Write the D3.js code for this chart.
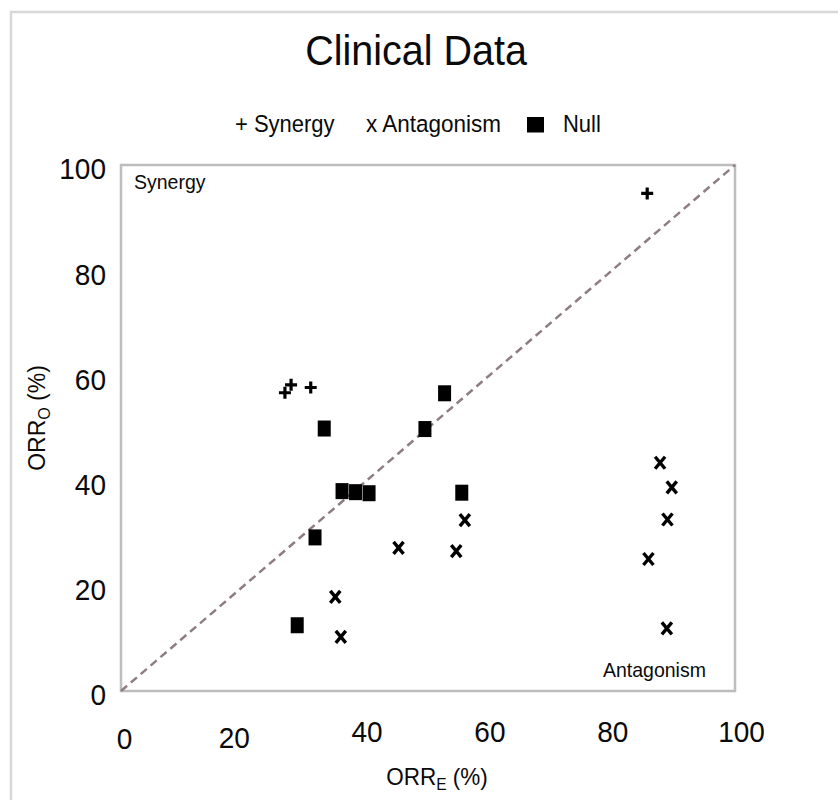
<!DOCTYPE html>
<html>
<head>
<meta charset="utf-8">
<script src="https://cdn.jsdelivr.net/npm/d3@7"></script>
<style>
  html, body { margin: 0; padding: 0; background: #fff; }
  svg { display: block; font-family: "Liberation Sans", Arial, sans-serif; }
</style>
</head>
<body>
<svg id="chart" width="838" height="800"></svg>
<script>
// ---- data ----
const xTicks = [0, 20, 40, 60, 80, 100];
const yTicks = [0, 20, 40, 60, 80, 100];
const seriesNames = ["Synergy", "Antagonism", "Null"];

const synergyX = [26.7, 27.7, 30.9, 85.7];
const synergyY = [56.7, 58.2, 57.7, 94.6];

const antagonismX = [56.0, 45.2, 54.6, 34.9, 35.8, 87.8, 89.7, 89.0, 85.9, 88.9];
const antagonismY = [32.5, 27.2, 26.6, 17.9, 10.3, 43.4, 38.7, 32.6, 25.1, 11.9];

const nullX = [33.1, 49.5, 52.7, 36.0, 38.2, 40.4, 55.5, 31.6, 28.7];
const nullY = [49.9, 49.8, 56.6, 38.0, 37.8, 37.6, 37.7, 29.2, 12.5];

// ---- drawing ----
const svg = d3.select("#chart");
const x = d3.scaleLinear().domain([0, 100]).range([121, 735]);
const y = d3.scaleLinear().domain([0, 100]).range([691, 165]);
const STRETCH = 1.08; // the reference's lettering is slightly taller than wide

// helper: text placed at (px,py) with vertical stretch
function stext(parent, px, py, size, anchor) {
  return parent.append("text")
    .attr("transform", `translate(${px},${py}) scale(1,${STRETCH})`)
    .attr("text-anchor", anchor || "start")
    .attr("font-size", size).attr("fill", "#0a0a0a");
}

// outer frame
svg.append("path")
  .attr("d", "M11,800 L11,12 L838,12")
  .attr("fill", "none").attr("stroke", "#d8d8d8").attr("stroke-width", 2.5);

// title
stext(svg, 416, 65, 39.5, "middle").text("Clinical Data");

// legend
const leg = svg.append("g");
stext(leg, 235, 132, 22).text("+ " + seriesNames[0]);
stext(leg, 366, 132, 22.5).text("x " + seriesNames[1]);
leg.append("rect").attr("x", 527).attr("y", 117).attr("width", 17).attr("height", 15.5).attr("fill", "#000");
stext(leg, 563, 132, 22).text(seriesNames[2]);

// plot box
svg.append("rect")
  .attr("x", x(0)).attr("y", y(100))
  .attr("width", x(100) - x(0)).attr("height", y(0) - y(100))
  .attr("fill", "none").attr("stroke", "#bdbdbd").attr("stroke-width", 2.5);

// diagonal
svg.append("line")
  .attr("x1", x(0)).attr("y1", y(0)).attr("x2", x(100)).attr("y2", y(100))
  .attr("stroke", "#8e7d82").attr("stroke-width", 2.5).attr("stroke-dasharray", "8,5");

// y axis
const yAxis = svg.append("g").attr("transform", "translate(106,0)")
  .call(d3.axisLeft(y).tickValues(yTicks).tickSize(0).tickPadding(0));
yAxis.select(".domain").remove();
yAxis.selectAll(".tick text")
  .attr("x", null).attr("y", null).attr("dy", "0.36em")
  .attr("transform", `translate(0,3) scale(1,${STRETCH})`)
  .attr("font-size", 28).attr("fill", "#0a0a0a")
  .attr("font-family", "Liberation Sans, Arial, sans-serif");

// x axis (small nudges of individual labels as in the reference)
const xNudge = {0: [3, 7], 20: [-10, 6], 100: [6, 0]};
const xAxis = svg.append("g").attr("transform", "translate(0,731)")
  .call(d3.axisBottom(x).tickValues(xTicks).tickSize(0).tickPadding(0));
xAxis.select(".domain").remove();
xAxis.selectAll(".tick text")
  .attr("x", null).attr("y", null).attr("dy", "0.36em")
  .attr("transform", d => {
    const n = xNudge[d] || [0, 0];
    return `translate(${n[0]},${n[1]}) scale(1,${STRETCH})`;
  })
  .attr("font-size", 28).attr("fill", "#0a0a0a")
  .attr("font-family", "Liberation Sans, Arial, sans-serif");

// axis titles
const xt = stext(svg, 437, 785, 22.5, "middle");
xt.append("tspan").text("ORR");
xt.append("tspan").attr("font-size", 15.5).attr("dy", 5).text("E");
xt.append("tspan").attr("dy", -5).text(" (%)");

const yt = svg.append("text")
  .attr("transform", `translate(45,418) rotate(-90) scale(1,${STRETCH})`)
  .attr("text-anchor", "middle").attr("font-size", 23).attr("fill", "#0a0a0a");
yt.append("tspan").text("ORR");
yt.append("tspan").attr("font-size", 16).attr("dy", 5).text("O");
yt.append("tspan").attr("dy", -5).text(" (%)");

// region labels
stext(svg, 134, 189, 19.5).text("Synergy");
stext(svg, 603, 677, 19.5).text("Antagonism");

// null squares
const nullData = nullX.map((v, i) => ({x: v, y: nullY[i]}));
svg.append("g").selectAll("rect").data(nullData).join("rect")
  .attr("x", d => x(d.x) - 6.5).attr("y", d => y(d.y) - 8)
  .attr("width", 13).attr("height", 16).attr("fill", "#000");

// synergy plus
const synData = synergyX.map((v, i) => ({x: v, y: synergyY[i]}));
svg.append("g").selectAll("path").data(synData).join("path")
  .attr("d", d => {
    const cx = x(d.x), cy = y(d.y), r = 6;
    return `M${cx - r},${cy}H${cx + r}M${cx},${cy - r}V${cy + r}`;
  })
  .attr("stroke", "#000").attr("stroke-width", 3.2).attr("fill", "none");

// antagonism x
const antData = antagonismX.map((v, i) => ({x: v, y: antagonismY[i]}));
svg.append("g").selectAll("path").data(antData).join("path")
  .attr("d", d => {
    const cx = x(d.x), cy = y(d.y), rx = 5, ry = 6;
    return `M${cx - rx},${cy - ry}L${cx + rx},${cy + ry}M${cx + rx},${cy - ry}L${cx - rx},${cy + ry}`;
  })
  .attr("stroke", "#000").attr("stroke-width", 3.4).attr("fill", "none");
</script>
</body>
</html>
